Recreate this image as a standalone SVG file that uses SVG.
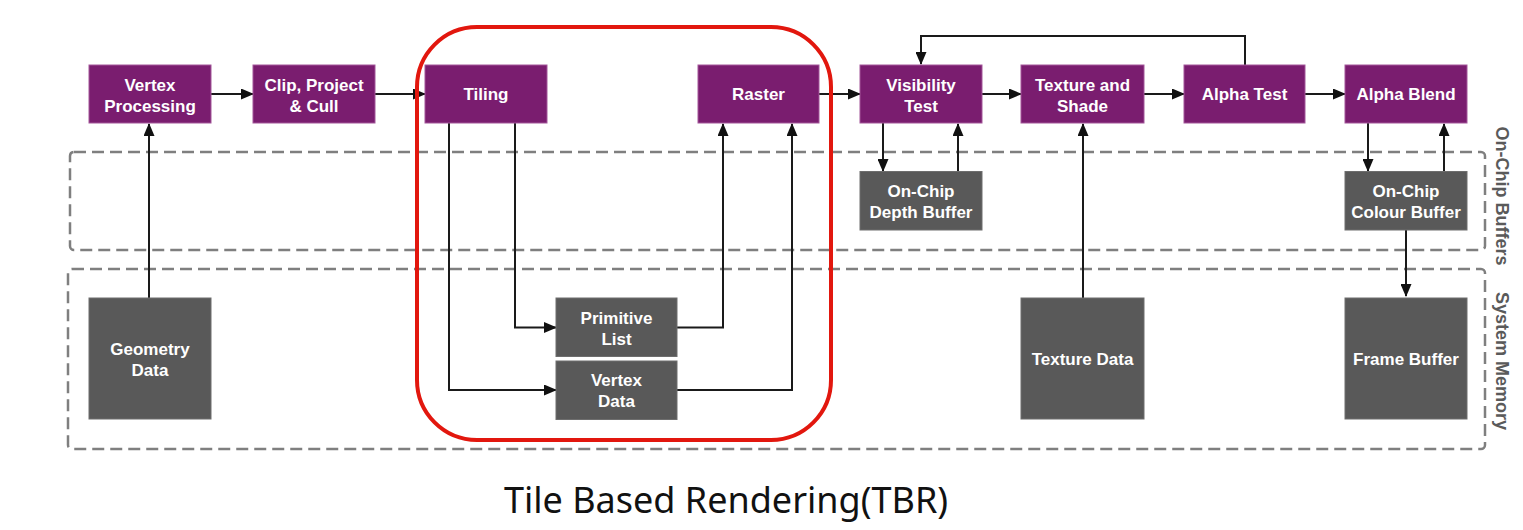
<svg xmlns="http://www.w3.org/2000/svg" width="1523" height="530" viewBox="0 0 1523 530">
<style>
.p{fill:#7a1d6f;stroke:#a3579a;stroke-width:1}
.g{fill:#595959;stroke:#6e6e6e;stroke-width:1}
.t{font-family:"Liberation Sans",Arial,sans-serif;font-weight:bold;font-size:17px;fill:#fff;text-anchor:middle}
.c{fill:none;stroke:#1a1a1a;stroke-width:2}
.a{marker-end:url(#ah)}
.d{fill:none;stroke:#7f7f7f;stroke-width:2.5;stroke-dasharray:12 6}
.v{font-family:"Liberation Sans",Arial,sans-serif;font-weight:bold;font-size:18px;fill:#5a5a5a;text-anchor:middle}
</style>
<defs>
<marker id="ah" markerWidth="13" markerHeight="11" refX="12" refY="5.5" orient="auto" markerUnits="userSpaceOnUse">
<path d="M0,0 L13,5.5 L0,11 z" fill="#111"/>
</marker>
</defs>
<rect width="1523" height="530" fill="#fff"/>

<g id="regions">
<rect class="d" x="70" y="152" width="1415" height="98" rx="4"/>
<rect class="d" x="68" y="269" width="1417" height="180" rx="4"/>
<text class="v" transform="translate(1502,196) rotate(90)" dy="6">On-Chip Buffers</text>
<text class="v" transform="translate(1502,361) rotate(90)" dy="6">System Memory</text>
</g>

<g id="connectors">
<path class="c a" d="M211,94 H253"/>
<path class="c a" d="M375,94 H425"/>
<path class="c a" d="M819,94 H860"/>
<path class="c a" d="M982,94 H1021"/>
<path class="c a" d="M1144,94 H1184"/>
<path class="c a" d="M1305,94 H1345"/>
<path class="c a" d="M149,298 V124"/>
<path class="c a" d="M449,123 V390 H556"/>
<path class="c a" d="M515,123 V327.5 H556"/>
<path class="c a" d="M677,327.5 H723 V124"/>
<path class="c a" d="M677,390 H792 V124"/>
<path class="c a" d="M883,123 V171"/>
<path class="c a" d="M958,171 V124"/>
<path class="c a" d="M1083,298 V124"/>
<path class="c a" d="M1368,123 V171"/>
<path class="c a" d="M1444,171 V124"/>
<path class="c a" d="M1406,230 V296"/>
<path class="c a" d="M1245,65 V36 H921 V64"/>
</g>

<g id="n-vertex-processing"><rect class="p" x="89" y="65" width="122" height="58"/><text class="t" x="150" y="90.5">Vertex</text><text class="t" x="150" y="111.5">Processing</text></g>
<g id="n-clip"><rect class="p" x="253" y="65" width="122" height="58"/><text class="t" x="314" y="90.5">Clip, Project</text><text class="t" x="314" y="111.5">&amp; Cull</text></g>
<g id="n-tiling"><rect class="p" x="425" y="65" width="122" height="58"/><text class="t" x="486" y="100">Tiling</text></g>
<g id="n-raster"><rect class="p" x="698" y="65" width="121" height="58"/><text class="t" x="758.5" y="100">Raster</text></g>
<g id="n-visibility"><rect class="p" x="860" y="65" width="122" height="58"/><text class="t" x="921" y="90.5">Visibility</text><text class="t" x="921" y="111.5">Test</text></g>
<g id="n-texture-shade"><rect class="p" x="1021" y="65" width="123" height="58"/><text class="t" x="1082.5" y="90.5">Texture and</text><text class="t" x="1082.5" y="111.5">Shade</text></g>
<g id="n-alpha-test"><rect class="p" x="1184" y="65" width="121" height="58"/><text class="t" x="1244.5" y="100">Alpha Test</text></g>
<g id="n-alpha-blend"><rect class="p" x="1345" y="65" width="122" height="58"/><text class="t" x="1406" y="100">Alpha Blend</text></g>

<g id="n-depth-buffer"><rect class="g" x="860" y="171.5" width="122" height="58.5"/><text class="t" x="921" y="197">On-Chip</text><text class="t" x="921" y="218">Depth Buffer</text></g>
<g id="n-colour-buffer"><rect class="g" x="1345" y="171.5" width="122" height="58.5"/><text class="t" x="1406" y="197">On-Chip</text><text class="t" x="1406" y="218">Colour Buffer</text></g>

<g id="n-geometry-data"><rect class="g" x="89" y="298" width="122" height="121"/><text class="t" x="150" y="355">Geometry</text><text class="t" x="150" y="376">Data</text></g>
<g id="n-primitive-list"><rect class="g" x="556" y="298" width="121" height="58.5"/><text class="t" x="616.5" y="324">Primitive</text><text class="t" x="616.5" y="345">List</text></g>
<g id="n-vertex-data"><rect class="g" x="556" y="361" width="121" height="58.5"/><text class="t" x="616.5" y="386">Vertex</text><text class="t" x="616.5" y="407">Data</text></g>
<g id="n-texture-data"><rect class="g" x="1021" y="298" width="123" height="121"/><text class="t" x="1082.5" y="364.5">Texture Data</text></g>
<g id="n-frame-buffer"><rect class="g" x="1345" y="298" width="122" height="121"/><text class="t" x="1406" y="364.5">Frame Buffer</text></g>

<g id="highlight">
<rect x="417" y="27" width="414" height="413" rx="60" fill="none" stroke="#e2170e" stroke-width="4"/>
</g>

<text id="title" x="726" y="513" font-family="'Noto Sans','Open Sans',sans-serif" font-size="36" fill="#111" text-anchor="middle">Tile Based Rendering(TBR)</text>
</svg>
